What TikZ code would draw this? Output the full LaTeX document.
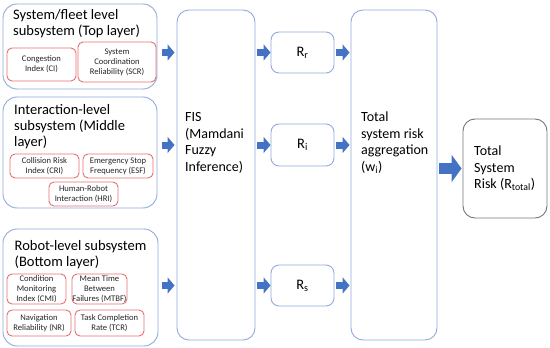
\documentclass[tikz,border=0pt]{standalone}
\usepackage{fontspec}
\setmainfont{Carlito}
\usetikzlibrary{arrows.meta}
\definecolor{boxblue}{RGB}{143,170,220}
\definecolor{boxred}{RGB}{232,110,112}
\definecolor{arrblue}{RGB}{68,114,196}
\definecolor{boxgray}{RGB}{118,118,118}
\tikzset{
  layerbox/.style={draw=boxblue, line width=0.9pt, rounded corners=14pt, minimum width=#1, inner sep=0pt},
  tallbox/.style={draw=boxblue, line width=0.9pt, rounded corners=12pt, minimum width=#1, minimum height=330pt, inner sep=0pt},
  redbox/.style={draw=boxred, line width=0.9pt, rounded corners=5pt, align=center, inner sep=0pt,
    font=\fontsize{8.6}{10}\selectfont, text=black!85},
  rbox/.style={draw=boxblue, line width=0.9pt, rounded corners=8pt, minimum width=63pt, inner sep=0pt,
    font=\fontsize{14.5}{17}\selectfont},
  totbox/.style={draw=boxgray, line width=0.9pt, rounded corners=12pt, minimum width=84pt, minimum height=99pt, inner sep=0pt},
  titletext/.style={anchor=base west, align=left, inner sep=0pt, font=\fontsize{14.5}{16}\selectfont},
  midtext/.style={anchor=base west, align=left, inner sep=0pt, font=\fontsize{14}{16.5}\selectfont},
  blockarr/.style={draw=arrblue, line width=7pt, -{Triangle[length=7pt,width=16pt]}, arrblue},
  bigarr/.style={draw=arrblue, line width=11pt, -{Triangle[length=10pt,width=27pt]}, arrblue},
}
\begin{document}
\begin{tikzpicture}[x=1pt,y=-1pt]
\useasboundingbox (0,0) rectangle (550,348);
% layer boxes
\node[layerbox=154pt, minimum height=85pt] (top) at (80,46.5) {};
\node[layerbox=154pt, minimum height=111pt] (mid) at (80,152.5) {};
\node[layerbox=155pt, minimum height=117pt] (bot) at (80.5,287.5) {};
% titles (anchored at the baseline of the last line)
\node[titletext] (toptitle) at (13,35.5) {System/fleet level\\subsystem (Top layer)};
\node[titletext] (midtitle) at (14,146.5) {Interaction-level\\subsystem (Middle\\layer)};
\node[titletext] (bottitle) at (14.5,266) {Robot-level subsystem\\(Bottom layer)};
% red boxes
\node[redbox, minimum width=69pt, minimum height=33pt] (ci) at (41.5,64.5) {Congestion\\Index (CI)};
\node[redbox, minimum width=78pt, minimum height=40pt] (scr) at (117,62) {System\\Coordination\\Reliability (SCR)};
\node[redbox, minimum width=69pt, minimum height=24pt] (cri) at (44.5,166) {Collision Risk\\Index (CRI)};
\node[redbox, minimum width=70pt, minimum height=24pt] (esf) at (118,166) {Emergency Stop\\Frequency (ESF)};
\node[redbox, minimum width=69pt, minimum height=24pt] (hri) at (83.5,194) {Human-Robot\\Interaction (HRI)};
\node[redbox, minimum width=59pt, minimum height=30pt] (cmi) at (36.5,289) {Condition\\Monitoring\\Index (CMI)};
\node[redbox, minimum width=55pt, minimum height=30pt] (mtbf) at (99.5,289) {Mean Time\\Between\\Failures (MTBF)};
\node[redbox, minimum width=64pt, minimum height=26pt] (nr) at (39,323) {Navigation\\Reliability (NR)};
\node[redbox, minimum width=69pt, minimum height=26pt] (tcr) at (109.5,323) {Task Completion\\Rate (TCR)};
% FIS
\node[tallbox=78pt] (fis) at (216,175) {};
\node[midtext] (fistext) at (185,171) {FIS\\(Mamdani\\Fuzzy\\Inference)};
% R boxes
\node[rbox, minimum height=41pt] (rr) at (302.5,52.5) {R\textsubscript{r}};
\node[rbox, minimum height=42pt] (ri) at (302.5,145) {R\textsubscript{i}};
\node[rbox, minimum height=41pt] (rs) at (302.5,285.5) {R\textsubscript{s}};
% aggregation
\node[tallbox=86pt] (agg) at (394,175) {};
\node[midtext] (aggtext) at (361,171) {Total\\system risk\\aggregation\\(w\textsubscript{i})};
% total
\node[totbox] (tot) at (505,168.5) {};
\node[midtext] (tottext) at (474,188.5) {Total\\System\\Risk (R\textsubscript{total})};
% arrows
\draw[blockarr, shorten <=5pt, shorten >=2pt] (top.east |- rr) -- (fis.west |- rr);
\draw[blockarr, shorten <=5pt, shorten >=2pt] (mid.east |- ri) -- (fis.west |- ri);
\draw[blockarr, shorten <=4pt, shorten >=2pt] (bot.east |- rs) -- (fis.west |- rs);
\draw[blockarr, shorten <=2pt] (fis.east |- rr) -- (rr.west);
\draw[blockarr, shorten <=2pt] (fis.east |- ri) -- (ri.west);
\draw[blockarr, shorten <=2pt] (fis.east |- rs) -- (rs.west);
\draw[blockarr, shorten <=2pt, shorten >=1pt] (rr.east) -- (agg.west |- rr);
\draw[blockarr, shorten <=2pt, shorten >=1pt] (ri.east) -- (agg.west |- ri);
\draw[blockarr, shorten <=2pt, shorten >=1pt] (rs.east) -- (agg.west |- rs);
\draw[bigarr, shorten <=2pt, shorten >=1pt] (agg.east |- tot) -- (tot.west);
\end{tikzpicture}
\end{document}
